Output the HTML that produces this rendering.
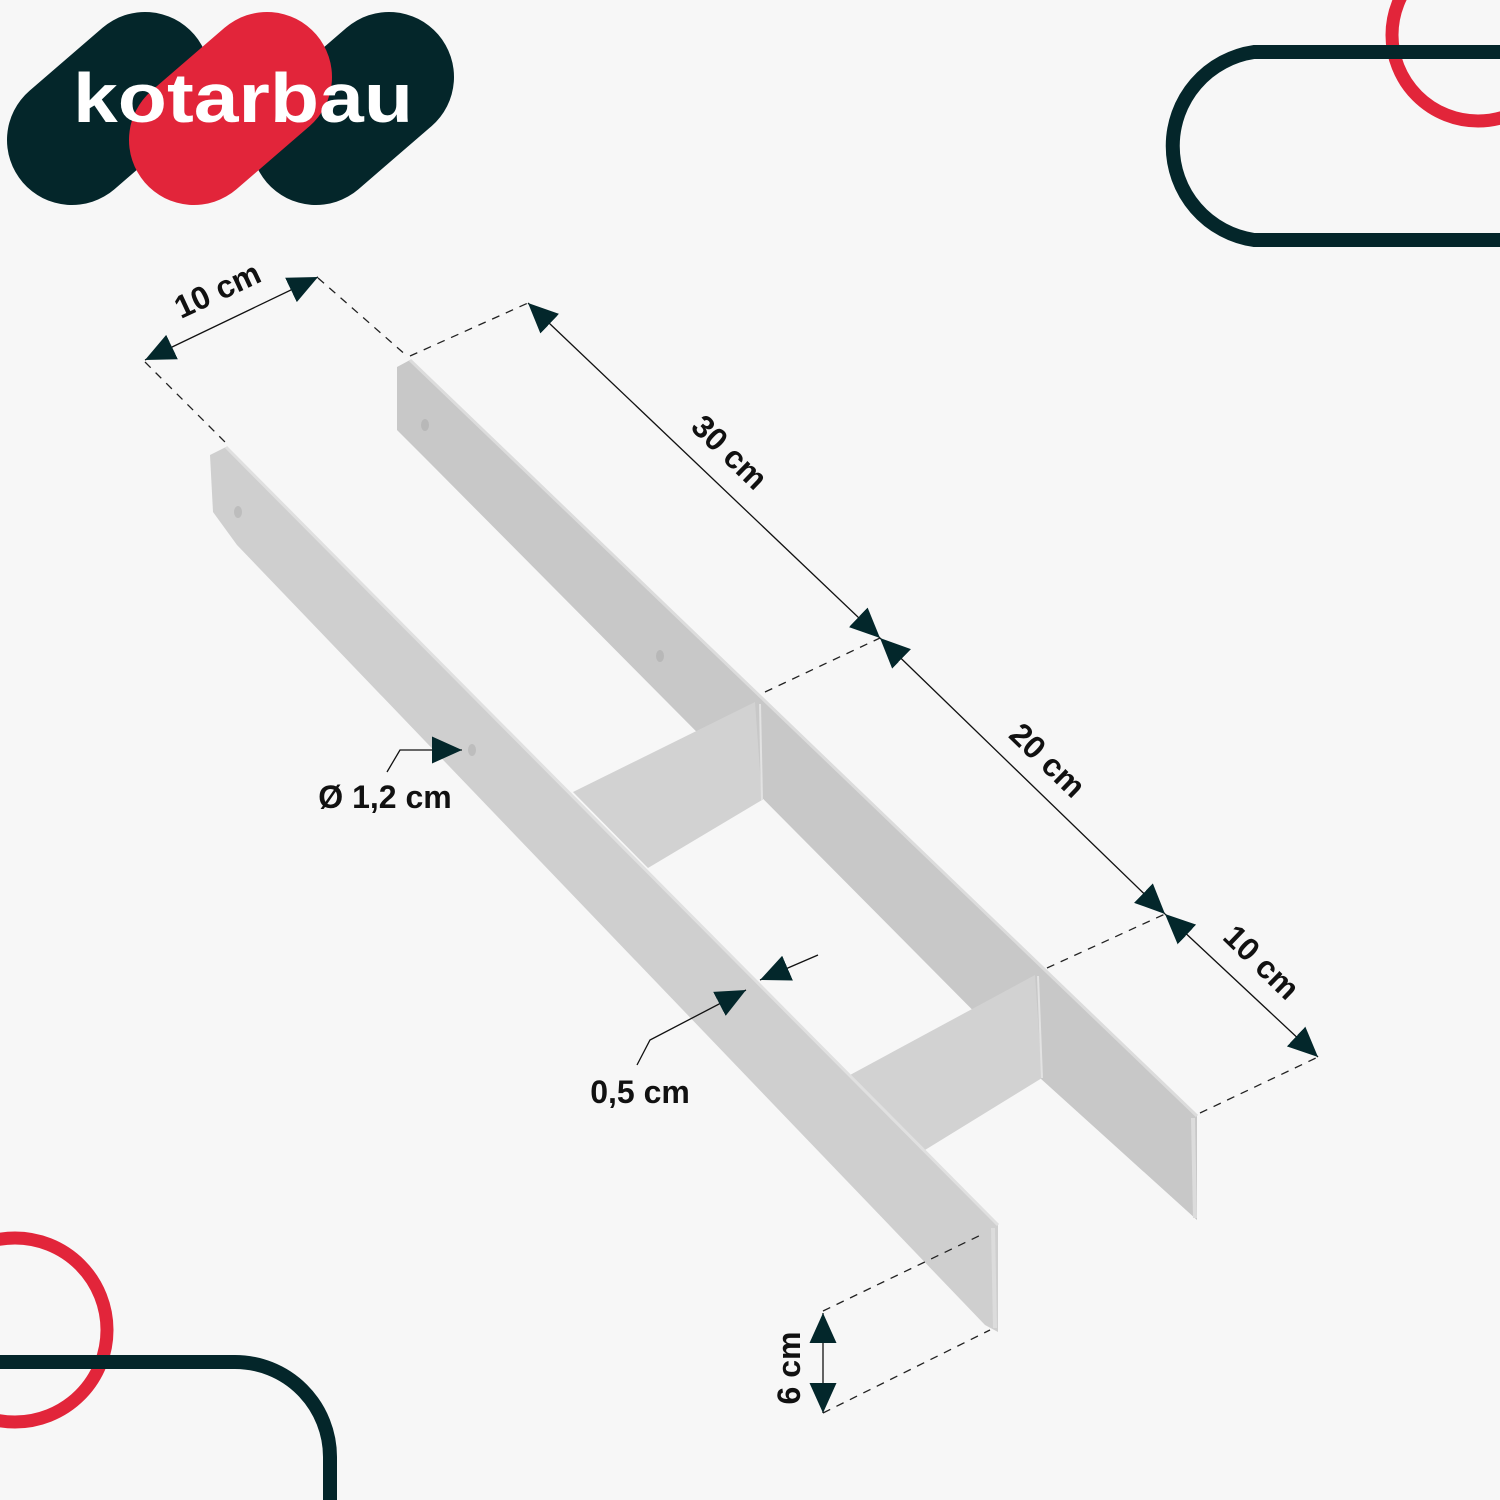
<!DOCTYPE html>
<html><head><meta charset="utf-8"><style>
html,body{margin:0;padding:0;background:#f7f7f7;}
svg{display:block}
text{font-family:"Liberation Sans",sans-serif;font-weight:bold;fill:#111;}
</style></head><body>
<svg width="1500" height="1500" viewBox="0 0 1500 1500" xmlns="http://www.w3.org/2000/svg">
<defs>
<marker id="a" viewBox="0 0 10 10" refX="10" refY="5" markerWidth="30" markerHeight="30" markerUnits="userSpaceOnUse" orient="auto-start-reverse"><path d="M0,0.5 L10,5 L0,9.5z" fill="#03272b"/></marker>
</defs>
<rect width="1500" height="1500" fill="#f7f7f7"/>

<!-- decorations -->
<circle cx="1478" cy="35" r="86" fill="none" stroke="#e2253a" stroke-width="13"/>
<path d="M1520,52 L1262,52 A95,95 0 0 0 1262,240 L1520,240" fill="none" stroke="#04262a" stroke-width="14" transform="translate(-8,0)"/>
<circle cx="15" cy="1330" r="92" fill="none" stroke="#e2253a" stroke-width="13"/>
<path d="M-20,1362 L235,1362 A95,95 0 0 1 330,1457 L330,1520" fill="none" stroke="#04262a" stroke-width="14"/>

<!-- logo -->
<line x1="72" y1="140" x2="145" y2="77" stroke="#04262a" stroke-width="130" stroke-linecap="round"/>
<line x1="316" y1="140" x2="389" y2="77" stroke="#04262a" stroke-width="130" stroke-linecap="round"/>
<line x1="194" y1="140" x2="267" y2="77" stroke="#e2253a" stroke-width="130" stroke-linecap="round"/>
<text x="73" y="122" font-size="70" style="fill:#fff" textLength="340" lengthAdjust="spacingAndGlyphs">kotarbau</text>

<!-- back plate -->
<polygon points="397,367 410,360 1197,1116 1197,1220 1040,1078 425,458 397,430" fill="#c8c8c8"/>
<polyline points="410,360 1197,1116" fill="none" stroke="#dcdcdc" stroke-width="3"/>
<!-- webs -->
<polygon points="573,792 755,702 762,800 648,868" fill="#d2d2d2"/>
<polygon points="850,1075 1035,975 1042,1078 925,1150" fill="#d2d2d2"/>
<line x1="760" y1="704" x2="762" y2="800" stroke="#e2e2e2" stroke-width="2"/>
<line x1="1038" y1="976" x2="1042" y2="1078" stroke="#e2e2e2" stroke-width="2"/>
<!-- front plate -->
<polygon points="210,455 226,447 998,1225 998,1332 985,1325 237,545 213,512" fill="#cfcfcf"/>
<polyline points="226,447 998,1225" fill="none" stroke="#e0e0e0" stroke-width="3"/>
<line x1="993" y1="1228" x2="995" y2="1328" stroke="#dcdcdc" stroke-width="4"/>
<line x1="1193" y1="1118" x2="1195" y2="1218" stroke="#dcdcdc" stroke-width="4"/>
<!-- holes -->
<ellipse cx="238" cy="512" rx="4" ry="6" fill="#bdbdbd"/>
<ellipse cx="425" cy="425" rx="4" ry="6" fill="#b8b8b8"/>
<ellipse cx="660" cy="656" rx="4" ry="6" fill="#b8b8b8"/>
<ellipse cx="472" cy="750" rx="4" ry="6" fill="#bdbdbd"/>

<!-- dashed extension lines -->
<g stroke="#222" stroke-width="1.3" stroke-dasharray="8,7" fill="none">
<line x1="145" y1="362" x2="228" y2="445"/>
<line x1="318" y1="278" x2="407" y2="356"/>
<line x1="410" y1="356" x2="528" y2="303"/>
<line x1="765" y1="692" x2="880" y2="638"/>
<line x1="1047" y1="968" x2="1165" y2="914"/>
<line x1="1200" y1="1113" x2="1318" y2="1057"/>
<line x1="823" y1="1311" x2="985" y2="1233"/>
<line x1="823" y1="1413" x2="990" y2="1330"/>
</g>
<!-- dimension lines -->
<g stroke="#111" stroke-width="1.3" fill="none">
<line x1="145" y1="360" x2="318" y2="277" marker-start="url(#a)" marker-end="url(#a)"/>
<line x1="528" y1="303" x2="880" y2="638" marker-start="url(#a)" marker-end="url(#a)"/>
<line x1="880" y1="638" x2="1165" y2="914" marker-start="url(#a)" marker-end="url(#a)"/>
<line x1="1165" y1="914" x2="1318" y2="1057" marker-start="url(#a)" marker-end="url(#a)"/>
<line x1="823" y1="1313" x2="823" y2="1413" marker-start="url(#a)" marker-end="url(#a)"/>
<polyline points="387,772 400,750 462,750" marker-end="url(#a)"/>
<polyline points="637,1065 650,1040 746,990" marker-end="url(#a)"/>
<line x1="818" y1="955" x2="760" y2="980" marker-end="url(#a)"/>
</g>

<!-- labels -->
<text font-size="32" transform="translate(222,300) rotate(-25)" text-anchor="middle">10 cm</text>
<text font-size="32" transform="translate(722,460) rotate(44)" text-anchor="middle">30 cm</text>
<text font-size="32" transform="translate(1040,768) rotate(44)" text-anchor="middle">20 cm</text>
<text font-size="32" transform="translate(1254,970) rotate(44)" text-anchor="middle">10 cm</text>
<text font-size="32" transform="translate(800,1368) rotate(-90)" text-anchor="middle">6 cm</text>
<text font-size="32" x="385" y="808" text-anchor="middle">Ø 1,2 cm</text>
<text font-size="32" x="640" y="1103" text-anchor="middle">0,5 cm</text>
</svg>
</body></html>
